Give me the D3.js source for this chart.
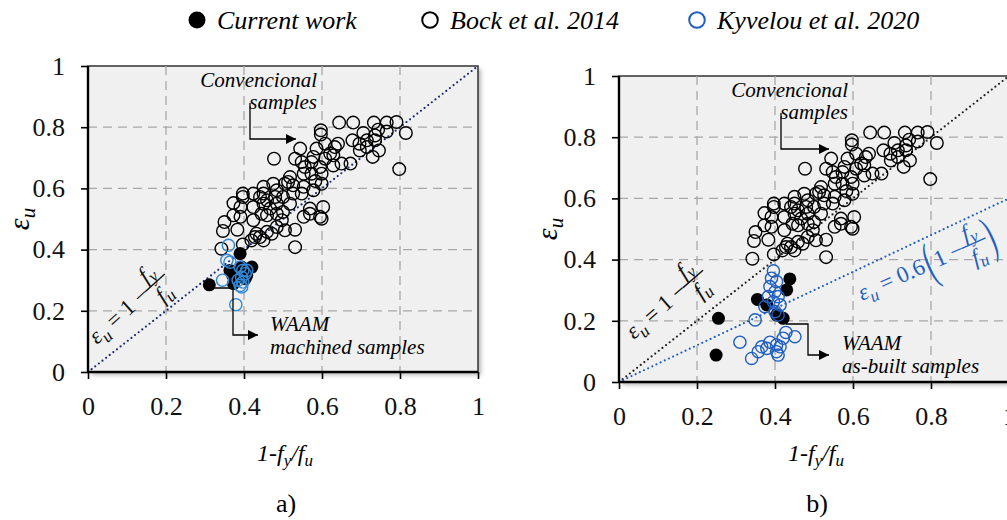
<!DOCTYPE html>
<html lang="en">
<head>
  <meta charset="UTF-8">
  <title>Ultimate strain vs 1-fy/fu</title>
  <style>
    body { margin: 0; background: #fff; }
  </style>
</head>
<body>
  <svg id="chart" width="1007" height="520" font-family="'Liberation Serif', 'DejaVu Serif', serif"></svg>

  <script src="https://d3js.org/d3.v7.min.js"></script>
  <script>
    const svg = d3.select("#chart");
    const SERIF = "'Liberation Serif', 'DejaVu Serif', serif";

    // axis ticks (same on both axes)
    const ticks = [0, 0.2, 0.4, 0.6, 0.8, 1];
    const gridTicks = [0.2, 0.4, 0.6, 0.8];

    // Bock et al. 2014 - conventional samples [1-fy/fu, eps_u]
    const bock = [
      [0.644,0.815],[0.680,0.815],[0.733,0.815],[0.766,0.815],[0.791,0.817],[0.815,0.781],
      [0.798,0.663],[0.597,0.790],[0.597,0.776],[0.706,0.781],[0.744,0.792],[0.736,0.773],
      [0.678,0.757],[0.696,0.746],[0.697,0.724],[0.730,0.703],[0.746,0.724],[0.715,0.735],
      [0.650,0.681],[0.633,0.735],[0.621,0.714],[0.608,0.746],[0.586,0.730],[0.544,0.730],
      [0.531,0.697],[0.548,0.686],[0.556,0.670],[0.477,0.697],[0.578,0.703],[0.595,0.670],
      [0.599,0.648],[0.599,0.615],[0.629,0.675],[0.608,0.697],[0.518,0.637],[0.505,0.615],
      [0.526,0.610],[0.475,0.615],[0.450,0.605],[0.450,0.583],[0.459,0.561],[0.450,0.550],
      [0.484,0.594],[0.500,0.572],[0.526,0.583],[0.548,0.583],[0.518,0.550],[0.484,0.550],
      [0.484,0.517],[0.424,0.539],[0.397,0.583],[0.397,0.572],[0.373,0.552],[0.391,0.539],
      [0.391,0.507],[0.350,0.490],[0.346,0.461],[0.383,0.465],[0.342,0.403],[0.397,0.417],
      [0.432,0.452],[0.441,0.441],[0.459,0.458],[0.450,0.430],[0.471,0.452],[0.484,0.474],
      [0.505,0.463],[0.531,0.465],[0.569,0.517],[0.595,0.507],[0.603,0.539],[0.599,0.501],
      [0.553,0.507],[0.531,0.408],[0.497,0.496],[0.459,0.512],[0.428,0.441],[0.419,0.430],
      [0.569,0.534],[0.583,0.624],[0.553,0.648],[0.573,0.648],[0.673,0.681],[0.641,0.746],
      [0.736,0.757],[0.766,0.786],[0.715,0.757],[0.578,0.594],[0.553,0.605],[0.513,0.621],
      [0.424,0.496],[0.445,0.517],[0.467,0.534],[0.500,0.523],[0.373,0.512],[0.480,0.572],
      [0.424,0.583],[0.441,0.572],[0.629,0.708],[0.573,0.686]
    ];

    // panel a) machined samples
    const currentMachined = [
      [0.311,0.285],[0.390,0.387],[0.373,0.289],[0.371,0.316],[0.364,0.332],
      [0.420,0.343],[0.407,0.316],[0.394,0.343],[0.403,0.305]
    ];
    const kyvelouMachined = [
      [0.360,0.414],[0.356,0.365],[0.364,0.359],[0.345,0.300],[0.379,0.220],[0.390,0.343],
      [0.397,0.332],[0.394,0.310],[0.397,0.294],[0.390,0.283],[0.403,0.321],[0.407,0.332],
      [0.385,0.300],[0.394,0.278]
    ];

    // panel b) as-built samples
    const currentAsBuilt = [
      [0.255,0.208],[0.249,0.088],[0.355,0.270],[0.438,0.337],[0.430,0.301],
      [0.421,0.208],[0.404,0.219],[0.379,0.252]
    ];
    const kyvelouAsBuilt = [
      [0.396,0.363],[0.391,0.339],[0.404,0.328],[0.387,0.312],[0.400,0.295],[0.383,0.279],
      [0.408,0.279],[0.396,0.262],[0.374,0.246],[0.413,0.252],[0.400,0.230],[0.408,0.219],
      [0.349,0.203],[0.310,0.130],[0.428,0.162],[0.451,0.148],[0.421,0.143],[0.387,0.130],
      [0.404,0.121],[0.366,0.115],[0.404,0.099],[0.357,0.099],[0.340,0.077],[0.408,0.088],
      [0.379,0.110],[0.413,0.115]
    ];

    const legendLabels = ["Current work", "Bock et al. 2014", "Kyvelou et al. 2020"];

    const BLUE = "#1f5fc0";

    const defs = svg.append("defs");
    defs.append("filter").attr("id", "blur")
      .append("feGaussianBlur").attr("stdDeviation", 2);
    defs.append("marker")
      .attr("id", "arrow")
      .attr("viewBox", "0 0 10 10")
      .attr("refX", 10).attr("refY", 5)
      .attr("markerWidth", 11).attr("markerHeight", 10)
      .attr("markerUnits", "userSpaceOnUse")
      .attr("orient", "auto")
      .append("path").attr("d", "M0,0L10,5L0,10Z").attr("fill", "#000");

    // writes a run of math text, returns x where it ended
    function mathRun(g, x, y, parts, size, color) {
      const t = g.append("text")
        .attr("x", x).attr("y", y)
        .attr("font-family", SERIF)
        .attr("font-size", size)
        .attr("fill", color);
      let shift = 0;
      parts.forEach(([s, kind]) => {
        const ts = t.append("tspan").text(s);
        if (kind === "i" || kind === "sub") ts.attr("font-style", "italic");
        if (kind === "sub") {
          ts.attr("font-size", size * 0.75).attr("dy", size * 0.25 - shift);
          shift = size * 0.25;
        } else if (shift) {
          ts.attr("dy", -shift);
          shift = 0;
        }
      });
      return x + t.node().getComputedTextLength();
    }

    // stacked fy / fu
    function fraction(g, x, size, color) {
      const w = size * 1.15;
      const cx = x + w / 2 + 2;
      const part = (yy, sub) => {
        const t = g.append("text").attr("x", cx).attr("y", yy)
          .attr("font-family", SERIF).attr("font-size", size).attr("fill", color)
          .attr("text-anchor", "middle").attr("font-style", "italic");
        t.append("tspan").text("f");
        t.append("tspan").text(sub).attr("font-size", size * 0.75).attr("dy", size * 0.2);
      };
      part(-size * 0.55, "y");
      g.append("line")
        .attr("x1", cx - w / 2).attr("x2", cx + w / 2)
        .attr("y1", -size * 0.32).attr("y2", -size * 0.32)
        .attr("stroke", color).attr("stroke-width", 1.4);
      part(size * 0.6, "u");
      return x + w + 4;
    }

    // tall thin bracket: a normal glyph stretched vertically
    function paren(g, x, s, color) {
      g.append("text")
        .attr("transform", `translate(${x},9) scale(1,2.2)`)
        .attr("font-family", SERIF).attr("font-size", 24).attr("fill", color).text(s);
    }

    function eqOne(px, py, angle, color) {
      const g = svg.append("g").attr("transform", `translate(${px},${py}) rotate(${angle})`);
      const end = mathRun(g, 0, 0, [["ε", "i"], ["u", "sub"], [" = 1 − ", "r"]], 23, color);
      fraction(g, end - 3, 23, color);
    }

    function eqBlue(px, py, angle) {
      const g = svg.append("g").attr("transform", `translate(${px},${py}) rotate(${angle})`);
      let end = mathRun(g, 0, 0, [["ε", "i"], ["u", "sub"], [" = 0.6", "r"]], 23, BLUE);
      paren(g, end + 2, "(", BLUE);
      end = mathRun(g, end + 12, 0, [["1 − ", "r"]], 23, BLUE);
      end = fraction(g, end - 3, 23, BLUE);
      paren(g, end - 2, ")", BLUE);
    }

    function callout(points) {
      svg.append("polyline")
        .attr("points", points.map(p => p.join(",")).join(" "))
        .attr("fill", "none").attr("stroke", "#000").attr("stroke-width", 1.3)
        .attr("marker-end", "url(#arrow)");
    }

    function drawPanel(cfg) {
      const w = 390, h = 306;
      const x = d3.scaleLinear([0, 1], [0, w]);
      const y = d3.scaleLinear([0, 1], [h, 0]);
      const g = svg.append("g").attr("transform", `translate(${cfg.left},${cfg.top})`);

      g.append("rect").attr("x", 3).attr("y", 3).attr("width", w).attr("height", h)
        .attr("fill", "#b8b8b8").attr("filter", "url(#blur)");
      g.append("rect").attr("width", w).attr("height", h).attr("fill", "#f0f0f0")
        .attr("stroke", "#333").attr("stroke-width", 1.5);

      // dashed grid
      g.append("g").selectAll("line").data(gridTicks).join("line")
        .attr("x1", d => x(d)).attr("x2", d => x(d)).attr("y1", 0).attr("y2", h)
        .attr("stroke", "#a8a8a8").attr("stroke-width", 1.3).attr("stroke-dasharray", "9,6");
      g.append("g").selectAll("line").data(gridTicks).join("line")
        .attr("y1", d => y(d)).attr("y2", d => y(d)).attr("x1", 0).attr("x2", w)
        .attr("stroke", "#a8a8a8").attr("stroke-width", 1.3).attr("stroke-dasharray", "9,6");

      // reference lines
      cfg.refLines.forEach(r => {
        g.append("line")
          .attr("x1", x(0)).attr("y1", y(0)).attr("x2", x(1)).attr("y2", y(r.k))
          .attr("stroke", r.color).attr("stroke-width", 2.2)
          .attr("stroke-linecap", "round").attr("stroke-dasharray", "0,4.6");
      });

      // axes
      const xa = g.append("g").attr("transform", `translate(0,${h})`)
        .call(d3.axisBottom(x).tickValues(ticks).tickFormat(d3.format("~g")).tickSize(7).tickPadding(18));
      const ya = g.append("g")
        .call(d3.axisLeft(y).tickValues(ticks).tickFormat(d3.format("~g")).tickSize(7).tickPadding(16));
      [xa, ya].forEach(a => {
        a.attr("font-family", SERIF).attr("font-size", 26);
        a.select(".domain").remove();
        a.selectAll(".tick line").attr("stroke", "#000").attr("stroke-width", 1.6);
        a.selectAll("text").attr("fill", "#111");
      });
      g.append("line").attr("x1", 0).attr("x2", w).attr("y1", h).attr("y2", h)
        .attr("stroke", "#000").attr("stroke-width", 2.4);
      g.append("line").attr("x1", 0).attr("x2", 0).attr("y1", 0).attr("y2", h)
        .attr("stroke", "#000").attr("stroke-width", 2.4);

      // points
      g.append("g").selectAll("circle").data(bock).join("circle")
        .attr("cx", d => x(d[0])).attr("cy", d => y(d[1])).attr("r", 6.3)
        .attr("fill", "none").attr("stroke", "#000").attr("stroke-width", 1.4);
      g.append("g").selectAll("circle").data(cfg.current).join("circle")
        .attr("cx", d => x(d[0])).attr("cy", d => y(d[1])).attr("r", 6.5)
        .attr("fill", "#000");
      g.append("g").selectAll("circle").data(cfg.kyvelou).join("circle")
        .attr("cx", d => x(d[0])).attr("cy", d => y(d[1])).attr("r", 6.1)
        .attr("fill", "none").attr("stroke", cfg.blue).attr("stroke-width", 1.4);

      // axis titles
      const xt = svg.append("text").attr("x", cfg.left + w / 2 + 2).attr("y", 461)
        .attr("text-anchor", "middle").attr("font-size", 24).attr("font-style", "italic");
      xt.append("tspan").text("1-f");
      xt.append("tspan").text("y").attr("font-size", 17).attr("dy", 5);
      xt.append("tspan").text("/f").attr("dy", -5);
      xt.append("tspan").text("u").attr("font-size", 17).attr("dy", 5);

      const yt = svg.append("text")
        .attr("transform", `translate(${cfg.ytx},${cfg.top + h / 2}) rotate(-90)`)
        .attr("text-anchor", "middle").attr("font-size", 30).attr("font-style", "italic");
      yt.append("tspan").text("ε");
      yt.append("tspan").text("u").attr("font-size", 21).attr("dy", 6);

      svg.append("text").attr("x", cfg.left + w / 2 + 3).attr("y", 512)
        .attr("text-anchor", "middle").attr("font-size", 26).text(cfg.label);
    }

    // panel a)
    drawPanel({
      left: 88, top: 66, label: "a)", ytx: 29, blue: "#3388d6",
      current: currentMachined, kyvelou: kyvelouMachined,
      refLines: [{ k: 1, color: "#1c2b6e" }]
    });
    // panel b)
    drawPanel({
      left: 619, top: 76, label: "b)", ytx: 557, blue: BLUE,
      current: currentAsBuilt, kyvelou: kyvelouAsBuilt,
      refLines: [{ k: 1, color: "#222" }, { k: 0.6, color: BLUE }]
    });

    // equations
    eqOne(97, 345, -42, "#111");
    eqOne(634, 340, -41, "#111");
    eqBlue(862, 301, -24);

    // callouts
    const label = (x, y, s, anchor) => svg.append("text").attr("x", x).attr("y", y)
      .attr("font-size", 21).attr("font-style", "italic").attr("text-anchor", anchor).text(s);

    callout([[250, 103], [250, 139], [296, 139]]);
    label(317, 87, "Convencional", "end");
    label(317, 109, "samples", "end");
    callout([[210, 288], [233, 288], [233, 335], [258, 335]]);
    label(270, 331, "WAAM", "start");
    label(270, 354, "machined samples", "start");

    callout([[781, 113], [781, 149], [829, 149]]);
    label(848, 97, "Convencional", "end");
    label(848, 119, "samples", "end");
    callout([[786, 324], [808, 324], [808, 355], [829, 355]]);
    label(842, 350, "WAAM", "start");
    label(842, 373, "as-built samples", "start");

    // legend
    const lg = svg.append("g");
    const legendX = [197, 430, 697];
    legendLabels.forEach((s, i) => {
      const c = lg.append("circle").attr("cx", legendX[i]).attr("cy", 20).attr("r", i === 0 ? 8.5 : 7.8);
      if (i === 0) c.attr("fill", "#000");
      else c.attr("fill", "none").attr("stroke", i === 1 ? "#000" : BLUE).attr("stroke-width", 2);
      lg.append("text").attr("x", legendX[i] + 20).attr("y", 29)
        .attr("font-size", 26).attr("font-style", "italic").text(s);
    });
  </script>
</body>
</html>
